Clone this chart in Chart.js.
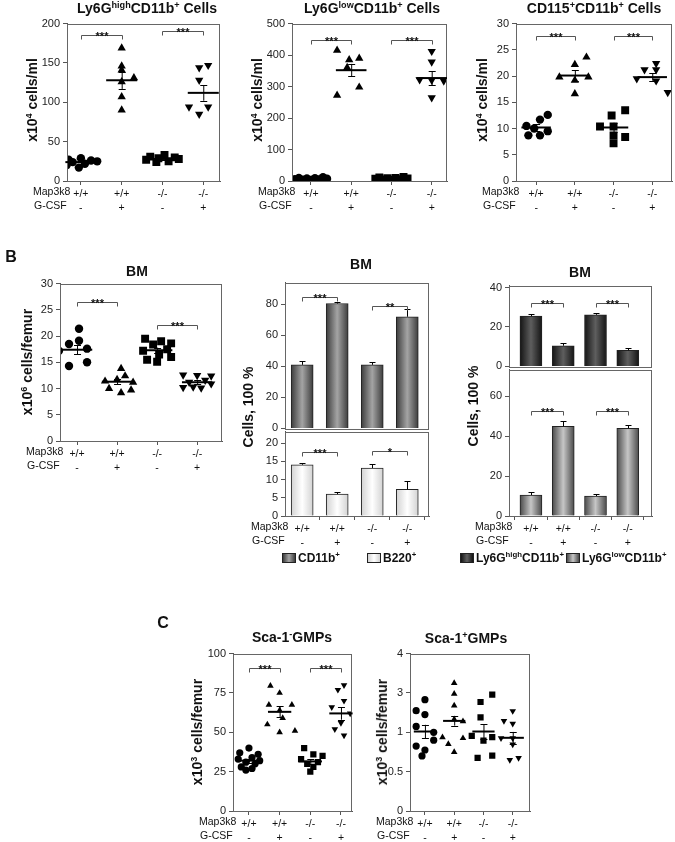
<!DOCTYPE html>
<html>
<head>
<meta charset="utf-8">
<script src="https://cdn.jsdelivr.net/npm/chart.js@4.4.1/dist/chart.umd.min.js"></script>
<style>
  body { margin: 0; background: #fff; font-family: 'Liberation Sans', Arial, sans-serif; color: #111; }
  #page { position: relative; width: 675px; height: 842px; overflow: hidden; }
  canvas { position: absolute; }
  .t { position: absolute; transform: translate(-50%, -50%); white-space: nowrap; font-weight: bold; line-height: 1; }
  .ttl { font-size: 14px; }
  .ax { font-size: 14px; transform: translate(-50%, -50%) rotate(-90deg); }
  .pl { font-size: 16px; }
  sup { font-size: 65%; vertical-align: 0; position: relative; top: -0.6em; }
  .lg { position: absolute; font-size: 12px; font-weight: bold; white-space: nowrap; line-height: 12px; }
  .sw { position: absolute; width: 12px; height: 8px; border: 1px solid #222; }
</style>
</head>
<body>
<div id="page"></div>
<script>
// x axis rows
const mapLabels = ['+/+', '+/+', '-/-', '-/-'];
const gcsfLabels = ['-', '+', '-', '+'];

// A - Ly6G high CD11b+ (x10^4 cells/ml)
const a1Ticks = [0, 50, 100, 150, 200];
const a1Vals = [[29, 27, 26, 25, 24, 22, 20, 17], [169, 146, 141, 131, 126, 107, 90], [33, 31, 30, 29, 28, 27, 25, 24], [147, 144, 128, 94, 94, 85]];
const a1Dx = [[0, -0.3, 0.25, 0.4, -0.2, 0.1, -0.35, -0.05], [0, 0, 0, 0.3, 0, 0, 0], [0.05, -0.3, 0.3, -0.1, 0.4, -0.4, 0.15, -0.15], [0.12, -0.1, -0.1, -0.35, 0.12, -0.1]];
const a1Mean = [24, 128, 28, 112];
const a1Sem = [2, 11, 1.5, 10];
const a1Sig = [[1, 2, 186, '***'], [3, 4, 190, '***']];

// A - Ly6G low CD11b+
const a2Ticks = [0, 100, 200, 300, 400, 500];
const a2Vals = [[12, 10, 9, 8, 7, 6, 5, 4, 3, 2], [415, 390, 385, 360, 298, 272], [13, 11, 10, 9, 8, 7, 6, 5, 4, 3], [412, 378, 322, 320, 318, 265]];
const a2Dx = [[0.3, -0.3, 0.1, -0.1, 0.4, -0.4, 0.2, -0.2, 0, 0.3], [-0.35, 0.2, -0.05, -0.1, 0.2, -0.35], [0.3, -0.3, 0.1, -0.1, 0.4, -0.4, 0.2, -0.2, 0, 0.3], [0, 0, -0.3, 0, 0.3, 0]];
const a2Mean = [6, 352, 6, 327];
const a2Sem = [1, 20, 1, 22];
const a2Sig = [[1, 2, 448, '***'], [3, 4, 448, '***']];

// A - CD115+ CD11b+
const a3Ticks = [0, 5, 10, 15, 20, 25, 30];
const a3Vals = [[12.6, 11.7, 10.5, 10, 9.5, 8.7, 8.7], [23.6, 22.2, 19.8, 19.8, 19.2, 16.6], [13.5, 12.5, 10.4, 10.4, 8.7, 8.4, 7.2], [22.4, 21.2, 21.2, 19.5, 19.1, 16.9]];
const a3Dx = [[0.3, 0.1, -0.25, -0.05, 0.3, -0.2, 0.1], [0.3, 0, -0.4, 0.35, 0, 0], [0.3, -0.05, -0.35, 0, 0, 0.3, 0], [0.1, -0.2, 0.1, -0.4, 0.1, 0.4]];
const a3Mean = [10.2, 20.1, 10.2, 19.8];
const a3Sem = [0.6, 1.0, 0.9, 0.7];
const a3Sig = [[1, 2, 27.7, '***'], [3, 4, 27.7, '***']];

// B - BM cellularity (x10^6 cells/femur)
const b1Ticks = [0, 5, 10, 15, 20, 25, 30];
const b1Vals = [[21.4, 19.1, 18.5, 17.6, 17.2, 15.0, 14.3], [13.8, 12.4, 11.7, 11.4, 11.2, 10.0, 9.2, 9.7], [19.5, 19.0, 18.6, 18.4, 17.5, 17.2, 16.5, 16.0, 15.5, 15.1], [12.6, 12.5, 12.4, 11.6, 11.2, 10.9, 10.2, 10.1, 10.3]];
const b1Dx = [[0.05, 0.05, -0.2, 0.25, -0.45, 0.25, -0.2], [0.1, 0.2, 0, -0.3, 0.4, -0.2, 0.1, 0.35], [-0.3, 0.1, 0.35, -0.1, 0.25, -0.35, 0.05, 0.35, -0.25, 0], [-0.35, 0, 0.35, 0.2, -0.2, 0.35, -0.35, 0.1, -0.1]];
const b1Mean = [17.4, 11.3, 17.3, 11.2];
const b1Sem = [0.9, 0.5, 0.5, 0.35];
const b1Sig = [[1, 2, 26.5, '***'], [3, 4, 22.2, '***']];

// B - CD11b+ / B220+ (% cells)
const cd11bTicks = [0, 20, 40, 60, 80];
const cd11b = [41, 80.5, 41, 72];
const cd11bErr = [2.5, 1, 2, 5];
const cd11bSig = [[1, 2, 85, '***'], [3, 4, 79, '**']];
const b220Ticks = [0, 5, 10, 15, 20];
const b220 = [14.1, 6.0, 13.2, 7.3];
const b220Err = [0.6, 0.6, 1.0, 2.2];
const b220Sig = [[1, 2, 17.6, '***'], [3, 4, 17.8, '*']];

// B - Ly6G high / low (% cells)
const hiTicks = [0, 20, 40];
const ly6gHigh = [25.5, 10.5, 26.2, 8.2];
const ly6gHighErr = [1.3, 1.5, 1.0, 1.3];
const hiSig = [[1, 2, 32, '***'], [3, 4, 32, '***']];
const loTicks = [0, 20, 40, 60];
const ly6gLow = [10.5, 45, 10, 44];
const ly6gLowErr = [1.5, 2.5, 0.8, 1.7];
const loSig = [[1, 2, 52.5, '***'], [3, 4, 52.5, '***']];

// C - Sca-1- GMPs (x10^3 cells/femur)
const c1Ticks = [0, 25, 50, 75, 100];
const c1Vals = [[40, 37, 36, 34, 33, 32, 31, 30, 28, 27, 26], [79.5, 75, 67.5, 67.5, 64, 59, 55, 50, 51], [40, 36, 35, 33, 31, 30, 28, 25], [80, 77, 70, 66, 62, 56, 52, 48]];
const c1Dx = [[0, -0.3, 0.3, 0.1, -0.35, 0.35, -0.1, 0.2, -0.25, 0.1, -0.1], [-0.3, 0, -0.35, 0.4, 0, 0.1, -0.4, 0, 0.5], [-0.2, 0.1, 0.4, -0.3, 0.25, -0.1, 0.1, 0], [0.1, -0.1, 0.1, -0.3, 0.3, 0, -0.2, 0.1]];
const c1Mean = [32, 63, 31.5, 62];
const c1Sem = [1.3, 3.5, 1.5, 4];
const c1Sig = [[1, 2, 91, '***'], [3, 4, 91, '***']];

// C - Sca-1+ GMPs (segmented axis, values in axis steps)
const c2Ticks = [0, 1, 2, 3, 4];
const c2TickLabels = ['0', '0.5', '1', '3', '4'];
const c2Vals = [[2.83, 2.55, 2.45, 2.15, 2.0, 1.8, 1.65, 1.55, 1.4], [3.25, 2.98, 2.68, 2.33, 2.28, 1.87, 1.85, 1.7, 1.5], [2.96, 2.77, 2.38, 1.91, 1.88, 1.79, 1.35, 1.41], [2.54, 2.29, 2.22, 1.85, 1.85, 1.69, 1.35, 1.3]];
const c2Dx = [[0, -0.3, 0, -0.3, 0.3, 0.3, -0.3, 0, -0.1], [0, 0, 0, 0, 0.3, -0.4, 0.3, -0.2, 0], [0.3, -0.1, -0.1, -0.4, 0.3, 0, -0.2, 0.3], [0, -0.3, 0, 0, -0.4, 0, 0.2, -0.1]];
const c2Mean = [2.02, 2.29, 2.02, 1.86];
const c2Sem = [0.17, 0.12, 0.18, 0.15];

Chart.defaults.font.family = "'Liberation Sans', Arial, sans-serif";
Chart.defaults.font.size = 11;
Chart.defaults.color = '#111';
Chart.defaults.animation = false;

const YW = 40, PT = 8, PR = 6, XH = 36;
const page = document.getElementById('page');
const cats = mapLabels.map((_, i) => i + 1);

// frame, means, error bars, brackets and row headers
const deco = {
  id: 'deco',
  afterDatasetsDraw(chart, args, o) {
    const { ctx, chartArea: a, scales: { x, y } } = chart;
    ctx.save();
    ctx.strokeStyle = '#666';
    ctx.lineWidth = 1;
    ctx.strokeRect(Math.round(a.left) + 0.5, Math.round(a.top) + 0.5, Math.round(a.width) - 1, Math.round(a.height));
    ctx.strokeStyle = '#000';
    (o.mean || []).forEach((m, i) => {
      const cx = x.getPixelForValue(i + 1);
      ctx.lineWidth = 2;
      ctx.beginPath();
      ctx.moveTo(x.getPixelForValue(i + 0.62), y.getPixelForValue(m));
      ctx.lineTo(x.getPixelForValue(i + 1.38), y.getPixelForValue(m));
      ctx.stroke();
      const s = o.sem[i], y0 = y.getPixelForValue(m - s), y1 = y.getPixelForValue(m + s);
      ctx.lineWidth = 1;
      ctx.beginPath();
      ctx.moveTo(cx + 0.5, y0); ctx.lineTo(cx + 0.5, y1);
      ctx.moveTo(cx - 3, Math.round(y0) + 0.5); ctx.lineTo(cx + 4, Math.round(y0) + 0.5);
      ctx.moveTo(cx - 3, Math.round(y1) + 0.5); ctx.lineTo(cx + 4, Math.round(y1) + 0.5);
      ctx.stroke();
    });
    (o.bars || []).forEach((v, i) => {
      const cx = Math.round(x.getPixelForValue(i + 1)) + 0.5;
      const y0 = y.getPixelForValue(v), y1 = Math.round(y.getPixelForValue(v + o.errs[i])) + 0.5;
      ctx.lineWidth = 1;
      ctx.beginPath();
      ctx.moveTo(cx, y0); ctx.lineTo(cx, y1);
      ctx.moveTo(cx - 3, y1); ctx.lineTo(cx + 3, y1);
      ctx.stroke();
    });
    (o.sig || []).forEach(([p, q, lvl, txt]) => {
      const xa = Math.round(x.getPixelForValue(p)) + 0.5, xb = Math.round(x.getPixelForValue(q)) + 0.5;
      const yy = Math.round(y.getPixelForValue(lvl)) + 0.5;
      ctx.strokeStyle = '#555';
      ctx.lineWidth = 1;
      ctx.beginPath();
      ctx.moveTo(xa, yy + 4); ctx.lineTo(xa, yy); ctx.lineTo(xb, yy); ctx.lineTo(xb, yy + 4);
      ctx.stroke();
      ctx.fillStyle = '#111';
      ctx.font = "bold 11px 'Liberation Sans', Arial, sans-serif";
      ctx.textAlign = 'center';
      ctx.textBaseline = 'alphabetic';
      ctx.fillText(txt, (xa + xb) / 2, yy + 4);
    });
    if (o.rows) {
      ctx.fillStyle = '#111';
      ctx.font = "10.5px 'Liberation Sans', Arial, sans-serif";
      ctx.textAlign = 'left';
      ctx.textBaseline = 'top';
      ctx.fillText('Map3k8', a.left - 34, a.bottom + 6);
      ctx.fillText('G-CSF', a.left - 33, a.bottom + 20);
    }
    ctx.restore();
  }
};

function canvasAt(L, T, R, B, padB) {
  const c = document.createElement('canvas');
  const w = R - L + YW + PR, h = B - T + PT + padB;
  c.width = w; c.height = h;
  c.style.left = (L - YW) + 'px';
  c.style.top = (T - PT) + 'px';
  c.style.width = w + 'px';
  c.style.height = h + 'px';
  page.appendChild(c);
  return c;
}

function yAxis(max, ticks, labels) {
  const t = { padding: 3, color: '#222' };
  if (labels) t.callback = v => labels[ticks.indexOf(v)];
  return {
    type: 'linear', min: 0, max,
    afterBuildTicks: s => { s.ticks = ticks.map(v => ({ value: v })); },
    afterFit: s => { s.width = YW; },
    ticks: t,
    grid: { drawOnChartArea: false, tickLength: 4, color: '#555' },
    border: { color: '#555' }
  };
}

function xAxis(min, max, labelled) {
  return {
    type: 'linear', min, max, offset: false, display: labelled,
    afterBuildTicks: s => { s.ticks = cats.map(v => ({ value: v })); },
    afterFit: s => { s.height = labelled ? XH : 0; },
    ticks: { padding: 2, color: '#111', font: { size: 10.5, lineHeight: 1.33 }, maxRotation: 0, autoSkip: false,
      callback: v => [mapLabels[v - 1], gcsfLabels[v - 1]] },
    grid: { drawOnChartArea: false, tickLength: 4, color: '#555' },
    border: { color: '#555' }
  };
}

const shapes = ['circle', 'triangle', 'rect', 'triangle'];
const rots = [0, 0, 0, 180];

function scatter(box, xr, ymax, ticks, vals, dx, mean, sem, sig, sizes, tickLabels) {
  const c = canvasAt(box[0], box[1], box[2], box[3], XH);
  new Chart(c, {
    type: 'scatter',
    data: {
      datasets: vals.map((g, i) => ({
        data: g.map((v, j) => ({ x: i + 1 + dx[i][j], y: v })),
        pointStyle: shapes[i], pointRotation: rots[i], pointRadius: sizes[i],
        pointBackgroundColor: '#000', pointBorderColor: '#000', pointBorderWidth: 0
      }))
    },
    options: {
      responsive: false, devicePixelRatio: 1,
      layout: { padding: { top: PT, right: PR, left: 0, bottom: 0 } },
      scales: { x: xAxis(xr[0], xr[1], true), y: yAxis(ymax, ticks, tickLabels) },
      plugins: { legend: { display: false }, tooltip: { enabled: false },
        deco: { mean, sem, sig, rows: true } }
    },
    plugins: [deco]
  });
}

function grad(edge, mid) {
  return c => {
    const xs = c.chart.scales.x;
    if (!xs || !c.raw) return mid;
    const cx = xs.getPixelForValue(c.raw.x);
    if (!isFinite(cx)) return mid;
    const g = c.chart.ctx.createLinearGradient(cx - 11, 0, cx + 11, 0);
    g.addColorStop(0, edge); g.addColorStop(0.5, mid); g.addColorStop(1, edge);
    return g;
  };
}

function bars(box, xr, ymax, ticks, vals, errs, sig, colors, labelled) {
  const padB = labelled ? XH : 8;
  const c = canvasAt(box[0], box[1], box[2], box[3], padB);
  new Chart(c, {
    type: 'bar',
    data: {
      datasets: [{
        data: vals.map((v, i) => ({ x: i + 1, y: v })),
        backgroundColor: grad(colors[0], colors[1]),
        borderColor: '#222', borderWidth: 1, barThickness: 22
      }]
    },
    options: {
      responsive: false, devicePixelRatio: 1,
      layout: { padding: { top: PT, right: PR, left: 0, bottom: labelled ? 0 : padB } },
      scales: { x: xAxis(xr[0], xr[1], labelled), y: yAxis(ymax, ticks) },
      plugins: { legend: { display: false }, tooltip: { enabled: false },
        deco: { bars: vals, errs, sig, rows: labelled } }
    },
    plugins: [deco]
  });
}

const big = [4.2, 4.8, 5.6, 4.8];
const small = [3.6, 3.8, 4.4, 3.8];

scatter([67, 22, 220, 181], [0.66, 4.41], 200, a1Ticks, a1Vals, a1Dx, a1Mean, a1Sem, a1Sig, big);
scatter([292, 22, 447, 181], [0.53, 4.38], 500, a2Ticks, a2Vals, a2Dx, a2Mean, a2Sem, a2Sig, big);
scatter([516, 22, 672, 181], [0.48, 4.51], 30, a3Ticks, a3Vals, a3Dx, a3Mean, a3Sem, a3Sig, big);
scatter([60, 282, 222, 441], [0.575, 4.62], 30, b1Ticks, b1Vals, b1Dx, b1Mean, b1Sem, b1Sig, big);

const cCD11b = ['#3c3c3c', '#a4a4a4'];
const cB220 = ['#d2d2d2', '#ffffff'];
const cHigh = ['#141414', '#5e5e5e'];
const cLow = ['#4a4a4a', '#c6c6c6'];
bars([285, 281, 429, 430], [0.51, 4.62], 94, cd11bTicks, cd11b, cd11bErr, cd11bSig, cCD11b, false);
bars([285, 430, 429, 516], [0.51, 4.62], 23.2, b220Ticks, b220, b220Err, b220Sig, cB220, true);
bars([509, 284, 652, 368], [0.32, 4.75], 41, hiTicks, ly6gHigh, ly6gHighErr, hiSig, cHigh, false);
bars([509, 368, 652, 516], [0.32, 4.75], 73.4, loTicks, ly6gLow, ly6gLowErr, loSig, cLow, true);

scatter([233, 652, 352, 811], [0.48, 4.36], 100, c1Ticks, c1Vals, c1Dx, c1Mean, c1Sem, c1Sig, small);
scatter([410, 652, 530, 811], [0.49, 4.59], 4, c2Ticks, c2Vals, c2Dx, c2Mean, c2Sem, [], small, c2TickLabels);

// text: titles, axis titles, panel letters
function text(cls, x, y, html) {
  const d = document.createElement('div');
  d.className = 't ' + cls;
  d.style.left = x + 'px';
  d.style.top = y + 'px';
  d.innerHTML = html;
  page.appendChild(d);
}
text('ttl', 147, 8, 'Ly6G<sup>high</sup>CD11b<sup>+</sup> Cells');
text('ttl', 372, 8, 'Ly6G<sup>low</sup>CD11b<sup>+</sup> Cells');
text('ttl', 594, 8, 'CD115<sup>+</sup>CD11b<sup>+</sup> Cells');
text('ttl', 137, 271, 'BM');
text('ttl', 361, 264, 'BM');
text('ttl', 580, 272, 'BM');
text('ttl', 292, 637, 'Sca-1<sup>-</sup>GMPs');
text('ttl', 466, 638, 'Sca-1<sup>+</sup>GMPs');
text('ax', 32, 100, 'x10<sup>4</sup> cells/ml');
text('ax', 257, 100, 'x10<sup>4</sup> cells/ml');
text('ax', 482, 100, 'x10<sup>4</sup> cells/ml');
text('ax', 27, 362, 'x10<sup>6</sup> cells/femur');
text('ax', 248, 407, 'Cells, 100 %');
text('ax', 473, 406, 'Cells, 100 %');
text('ax', 197, 732, 'x10<sup>3</sup> cells/femur');
text('ax', 382, 732, 'x10<sup>3</sup> cells/femur');
text('pl', 11, 257, 'B');
text('pl', 163, 623, 'C');

// legends
function legend(x, y, colors, html) {
  const s = document.createElement('div');
  s.className = 'sw';
  s.style.left = x + 'px';
  s.style.top = (y - 5) + 'px';
  s.style.background = 'linear-gradient(to right,' + colors[0] + ',' + colors[1] + ',' + colors[0] + ')';
  page.appendChild(s);
  const d = document.createElement('div');
  d.className = 'lg';
  d.style.left = (x + 16) + 'px';
  d.style.top = (y - 6) + 'px';
  d.innerHTML = html;
  page.appendChild(d);
}
legend(282, 558, cCD11b, 'CD11b<sup>+</sup>');
legend(367, 558, cB220, 'B220<sup>+</sup>');
legend(460, 558, cHigh, 'Ly6G<sup>high</sup>CD11b<sup>+</sup>');
legend(566, 558, cLow, 'Ly6G<sup>low</sup>CD11b<sup>+</sup>');
</script>
</body>
</html>
